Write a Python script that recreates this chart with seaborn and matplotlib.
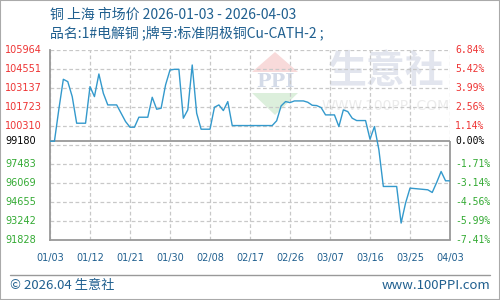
import matplotlib
matplotlib.use('Agg')
import matplotlib.pyplot as plt
import matplotlib.transforms as mtransforms
from matplotlib.patches import Polygon, Rectangle
from matplotlib.lines import Line2D
import seaborn as sns
import pandas as pd

# ---- data ----
dates = ['2026-01-03', '2026-01-04', '2026-01-05', '2026-01-06', '2026-01-07', '2026-01-08',
         '2026-01-09', '2026-01-11', '2026-01-12', '2026-01-13', '2026-01-14', '2026-01-15',
         '2026-01-16', '2026-01-18', '2026-01-19', '2026-01-20', '2026-01-21', '2026-01-22',
         '2026-01-23', '2026-01-25', '2026-01-26', '2026-01-27', '2026-01-28', '2026-01-29',
         '2026-01-30', '2026-01-31', '2026-02-01', '2026-02-02', '2026-02-03', '2026-02-04',
         '2026-02-05', '2026-02-06', '2026-02-08', '2026-02-09', '2026-02-10', '2026-02-11',
         '2026-02-12', '2026-02-13', '2026-02-22', '2026-02-23', '2026-02-24', '2026-02-25',
         '2026-02-26', '2026-02-27', '2026-03-01', '2026-03-02', '2026-03-03', '2026-03-04',
         '2026-03-05', '2026-03-06', '2026-03-08', '2026-03-09', '2026-03-10', '2026-03-11',
         '2026-03-12', '2026-03-13', '2026-03-15', '2026-03-16', '2026-03-17', '2026-03-18',
         '2026-03-19', '2026-03-22', '2026-03-23', '2026-03-24', '2026-03-25', '2026-03-29',
         '2026-03-30', '2026-03-31', '2026-04-01', '2026-04-02', '2026-04-03']
prices = [99180, 99180, 101580, 103785, 103610, 102497,
          100517, 100517, 103240, 102497, 104180, 102745,
          101879, 101879, 101260, 100641, 100220, 100220,
          100963, 100963, 102448, 101557, 101631, 103364,
          104477, 104527, 104527, 100889, 101508, 104849,
          101260, 100071, 100071, 101705, 101879, 101458,
          102126, 100343, 100343, 100700, 101805, 102126,
          102052, 102176, 102176, 102077, 101854, 101830,
          101681, 101136, 101136, 100270, 101508, 101384,
          100889, 100715, 100715, 99328, 100270, 98536,
          95811, 95811, 93087, 94573, 95687, 95563,
          95365, 96108, 96925, 96232, 96232]

x_tick_dates = ['2026-01-03', '2026-01-12', '2026-01-21', '2026-01-30', '2026-02-08', '2026-02-17',
                '2026-02-26', '2026-03-07', '2026-03-16', '2026-03-25', '2026-04-03']
x_tick_labels = ['01/03', '01/12', '01/21', '01/30', '02/08', '02/17',
                 '02/26', '03/07', '03/16', '03/25', '04/03']
y_label_values = [105964, 104551, 103137, 101723, 100310, 99180, 97483, 96069, 94655, 93242, 91828]
y_labels = ['105964', '104551', '103137', '101723', '100310', '99180',
            '97483', '96069', '94655', '93242', '91828']
pct_labels = ['6.84%', '5.42%', '3.99%', '2.56%', '1.14%', '0.00%',
              '-1.71%', '-3.14%', '-4.56%', '-5.99%', '-7.41%']
grid_levels = [105964, 104551, 103137, 101723, 100310, 98896, 97483, 96069, 94655, 93242, 91828]
base_price = 99180

title1 = '铜 上海 市场价 2026-01-03 - 2026-04-03'
title2 = '品名:1#电解铜 ;牌号:标准阴极铜Cu-CATH-2 ;'
footer_left = '© 2026.04 生意社'
footer_right = 'www.100PPI.com'

# ---- style ----
sns.set_style('white')
plt.rcParams['font.family'] = ['DejaVu Sans']
CJK = ['Noto Sans CJK SC', 'DejaVu Sans']
BLUE_TXT = '#1f5f8f'
RED = '#ee3333'
GREEN = '#33aa33'
GRID = '#c8c8c8'
FRAME = '#999999'

df = pd.DataFrame({'date': pd.to_datetime(dates), 'price': prices})

fig = plt.figure(figsize=(5, 3), dpi=100)
ax = fig.add_axes([0.1, 0.2, 0.8, 0.6333])
ax.patch.set_alpha(0)

sns.lineplot(data=df, x='date', y='price', color='#3399cc', linewidth=1.0, ax=ax, zorder=3)

ax.set_ylim(grid_levels[-1], grid_levels[0])
xt = pd.to_datetime(x_tick_dates)
ax.set_xlim(xt[0], xt[-1])

# grid
for g in grid_levels:
    ax.axhline(g, color=GRID, lw=0.9, ls=(0, (3, 2)), zorder=1)
for d in xt:
    ax.axvline(d, color=GRID, lw=0.9, ls=(0, (3, 2)), zorder=1)
ax.axhline(base_price, color=FRAME, lw=1.3, zorder=2)

# spines
for s in ['top', 'right']:
    ax.spines[s].set_visible(False)
for s in ['left', 'bottom']:
    ax.spines[s].set_color(FRAME)
    ax.spines[s].set_linewidth(1.3)
ax.vlines(xt[-1], grid_levels[-1], base_price, color=FRAME, lw=1.3, zorder=2, clip_on=False)

# ticks
ax.set_xticks(xt)
ax.set_xticklabels(x_tick_labels)
ax.tick_params(axis='x', length=0, pad=9, labelsize=7, labelcolor=BLUE_TXT)
ax.set_yticks([])
ax.set_xlabel('')
ax.set_ylabel('')

trans_l = mtransforms.blended_transform_factory(fig.transFigure, ax.transData)
for v, lab, pct in zip(y_label_values, y_labels, pct_labels):
    if v > base_price:
        c = RED
    elif v < base_price:
        c = GREEN
    else:
        c = 'black'
    ax.text(0.01, v, lab, transform=trans_l, ha='left', va='center', fontsize=7, color=c, clip_on=False)
    ax.text(0.91, v, pct, transform=trans_l, ha='left', va='center', fontsize=7, color=c,
            family='DejaVu Sans Mono', clip_on=False)

# watermark
def fxy(px, py):
    return (px / 500, 1 - py / 300)

ax.add_patch(Polygon([fxy(252, 72), fxy(298, 72), fxy(275, 52)], closed=True,
                     transform=fig.transFigure, facecolor='#f8dada', edgecolor='none', zorder=0.5))
ax.add_patch(Polygon([fxy(252, 93), fxy(298, 93), fxy(275, 115)], closed=True,
                     transform=fig.transFigure, facecolor='#dcefdc', edgecolor='none', zorder=0.5))
ax.text(*fxy(275, 82), 'PPI', transform=fig.transFigure, ha='center', va='center',
        fontsize=14, family='DejaVu Serif', fontweight='bold', color='#d4dbe8', zorder=0.6)
ax.text(*fxy(386, 72), '生意社', transform=fig.transFigure, ha='center', va='center',
        fontsize=28, family=CJK, fontweight='bold', color='#e2e5ee', zorder=0.6)
ax.text(*fxy(386, 106), 'WWW.100PPI.COM', transform=fig.transFigure, ha='center', va='center',
        fontsize=10, color='#ebebeb', zorder=0.6)

# titles
fig.text(0.1, 0.95, title1, fontsize=10, color=BLUE_TXT, family=CJK, va='center', ha='left')
fig.text(0.1, 0.89, title2, fontsize=10, color=BLUE_TXT, family=CJK, va='center', ha='left')

# footer
fig.add_artist(Line2D([0.02, 0.98], [0.0833, 0.0833], transform=fig.transFigure, color=FRAME, lw=1))
fig.text(0.02, 0.048, footer_left, fontsize=9.5, color=BLUE_TXT, family=CJK, va='center', ha='left')
fig.text(0.98, 0.048, footer_right, fontsize=9.5, color=BLUE_TXT, family=CJK, va='center', ha='right')
fig.add_artist(Rectangle((0, 0), 1, 1, transform=fig.transFigure, fill=False, edgecolor='#aaaaaa', lw=1.5))

fig.savefig('out.png', dpi=100)
